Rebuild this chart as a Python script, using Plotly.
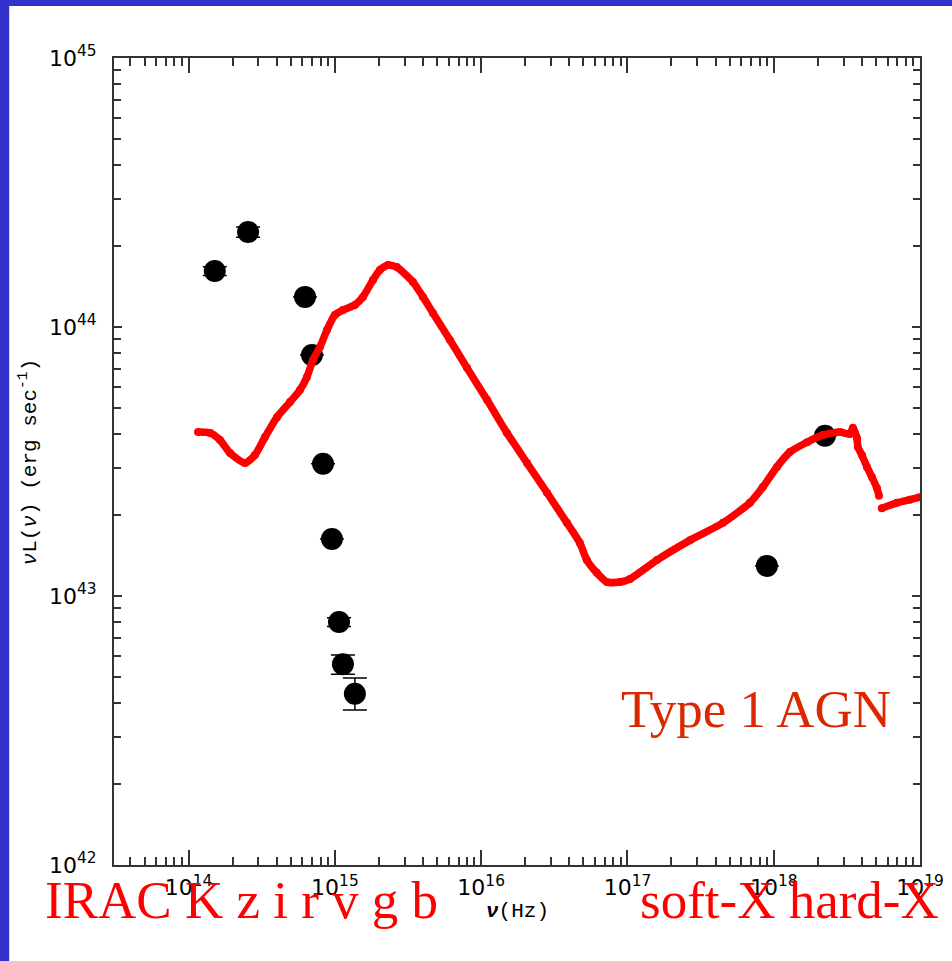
import plotly.graph_objects as go

# ---- observed photometry (black points) ----
nu_obs = [1.51e14, 2.55e14, 6.25e14, 6.97e14, 8.30e14, 9.55e14, 1.067e15, 1.135e15, 1.37e15, 8.98e17, 2.24e18]
L_obs = [1.614e44, 2.254e44, 1.294e44, 7.87e43, 3.10e43, 1.63e43, 8.00e42, 5.58e42, 4.33e42, 1.294e43, 3.94e43]
err_up = [0.06e44, 0.10e44, 0, 0, 0, 0, 0.3e42, 0.46e42, 0.63e42, 0, 0]
err_dn = [0.06e44, 0.10e44, 0, 0, 0, 0, 0.3e42, 0.46e42, 0.56e42, 0, 0]

# ---- Type 1 AGN template (red curve) ----
nu_tpl = [1.16e14, 1.40e14, 1.64e14, 1.92e14, 2.43e14, 2.84e14, 3.33e14, 4.02e14, 4.93e14, 5.77e14,
          6.44e14, 7.08e14, 7.91e14, 8.83e14, 1.00e15, 1.135e15, 1.37e15, 1.556e15, 1.82e15, 2.03e15,
          2.31e15, 2.65e15, 3.42e15, 4.00e15, 4.68e15, 6.12e15, 8.00e15, 1.096e16, 1.50e16, 2.06e16,
          2.82e16, 3.86e16, 4.73e16, 5.28e16, 6.18e16, 7.24e16, 8.89e16, 1.04e17, 1.59e17, 2.67e17,
          4.50e17, 6.87e17, 8.43e17, 1.052e18, 1.29e18, 1.69e18, 2.17e18, 2.83e18, 3.32e18, 3.48e18,
          3.71e18, 3.76e18, 4.01e18, 4.34e18, 4.69e18, 5.07e18, 5.24e18, None,
          5.48e18, 6.95e18, 8.53e18, 9.98e18]
L_tpl = [4.07e43, 4.04e43, 3.80e43, 3.40e43, 3.12e43, 3.34e43, 3.90e43, 4.62e43, 5.26e43, 5.83e43,
         6.52e43, 7.54e43, 8.43e43, 9.75e43, 1.109e44, 1.156e44, 1.208e44, 1.294e44, 1.496e44, 1.63e44,
         1.70e44, 1.67e44, 1.469e44, 1.294e44, 1.127e44, 8.95e43, 7.05e43, 5.36e43, 4.04e43, 3.12e43,
         2.42e43, 1.87e43, 1.574e43, 1.36e43, 1.219e43, 1.127e43, 1.127e43, 1.156e43, 1.36e43, 1.61e43,
         1.87e43, 2.22e43, 2.54e43, 3.02e43, 3.43e43, 3.73e43, 3.97e43, 4.07e43, 4.00e43, 4.22e43,
         3.86e43, 3.58e43, 3.34e43, 3.02e43, 2.77e43, 2.52e43, 2.36e43, None,
         2.12e43, 2.22e43, 2.28e43, 2.33e43]

# ---- axis ticks ----
x_tick_vals = [1e14, 1e15, 1e16, 1e17, 1e18, 1e19]
x_tick_text = ["10<sup>14</sup>", "10<sup>15</sup>", "10<sup>16</sup>", "10<sup>17</sup>", "10<sup>18</sup>", "10<sup>19</sup>"]
y_tick_vals = [1e42, 1e43, 1e44, 1e45]
y_tick_text = ["10<sup>42</sup>", "10<sup>43</sup>", "10<sup>44</sup>", "10<sup>45</sup>"]
x_minor = [d * 10.0 ** e for e in range(13, 19) for d in range(2, 10)]
y_minor = [d * 10.0 ** e for e in range(42, 45) for d in range(2, 10)]

# ---- labels ----
band_label = "IRAC K z i r v g b"
xray_label = "soft-X hard-X"
model_label = "Type 1 AGN"

fig = go.Figure()

fig.add_trace(go.Scatter(
    x=nu_obs, y=L_obs, mode="markers",
    marker=dict(color="black", size=22),
    error_y=dict(type="data", array=err_up, arrayminus=err_dn, color="black", thickness=1.5, width=12),
    showlegend=False, hoverinfo="skip"))

fig.add_trace(go.Scatter(
    x=nu_tpl, y=L_tpl, mode="lines+markers", connectgaps=False,
    line=dict(color="#FF0000", width=7.5, shape="spline", smoothing=0.6),
    marker=dict(color="#FF0000", size=8),
    showlegend=False, hoverinfo="skip"))

axcol = "#333333"
tickfont = dict(family="DejaVu Sans", size=22, color="black")

fig.update_xaxes(
    type="log", range=[13.49, 19.0], automargin=False,
    tickmode="array", tickvals=x_tick_vals, ticktext=x_tick_text,
    ticks="inside", ticklen=15, tickwidth=1.5, tickcolor=axcol,
    minor=dict(tickmode="array", tickvals=x_minor, ticks="inside", ticklen=8, tickwidth=1.5, tickcolor=axcol, showgrid=False),
    showline=True, linecolor=axcol, linewidth=2, mirror="allticks",
    showgrid=False, zeroline=False, tickfont=tickfont, ticklabelstandoff=2)

fig.update_yaxes(
    type="log", range=[42, 45], automargin=False,
    tickmode="array", tickvals=y_tick_vals, ticktext=y_tick_text,
    ticks="inside", ticklen=8, tickwidth=1.5, tickcolor=axcol,
    minor=dict(tickmode="array", tickvals=y_minor, ticks="inside", ticklen=7, tickwidth=1.5, tickcolor=axcol, showgrid=False),
    showline=True, linecolor=axcol, linewidth=2, mirror="allticks",
    showgrid=False, zeroline=False, tickfont=tickfont, ticklabelstandoff=11)

serif_red = dict(family="Liberation Serif", size=53, color="#FF0000")

fig.update_layout(
    width=952, height=961, autosize=False,
    margin=dict(l=114, r=32, t=58, b=96, pad=0, autoexpand=False),
    paper_bgcolor="#3333CC", plot_bgcolor="white",
    shapes=[dict(type="rect", xref="paper", yref="paper", layer="below",
                 x0=-0.13, x1=1.05, y0=-0.13, y1=1.0644,
                 fillcolor="white", line=dict(width=0))],
    annotations=[
        dict(text="<i>ν</i>L(<i>ν</i>) (erg sec<sup>-1</sup>)", textangle=-90,
             xref="paper", yref="paper", x=-0.1055, y=0.5, xanchor="center", yanchor="middle",
             showarrow=False, font=dict(family="Liberation Mono", size=21, color="black")),
        dict(text="<b><i>ν</i></b>(Hz)", xref="paper", yref="paper", x=0.5, y=-0.0582,
             xanchor="center", yanchor="middle", showarrow=False,
             font=dict(family="Liberation Mono", size=21, color="black")),
        dict(text=band_label, xref="paper", yref="paper", x=-0.0881, y=-0.0434,
             xanchor="left", yanchor="middle", showarrow=False, font=serif_red),
        dict(text=xray_label, xref="paper", yref="paper", x=0.650, y=-0.0434,
             xanchor="left", yanchor="middle", showarrow=False, font=serif_red),
        dict(text=model_label, xref="paper", yref="paper", x=0.627, y=0.1933,
             xanchor="left", yanchor="middle", showarrow=False,
             font=dict(family="Liberation Serif", size=53, color="#DC2800")),
    ],
)

fig.write_html("out.html")
